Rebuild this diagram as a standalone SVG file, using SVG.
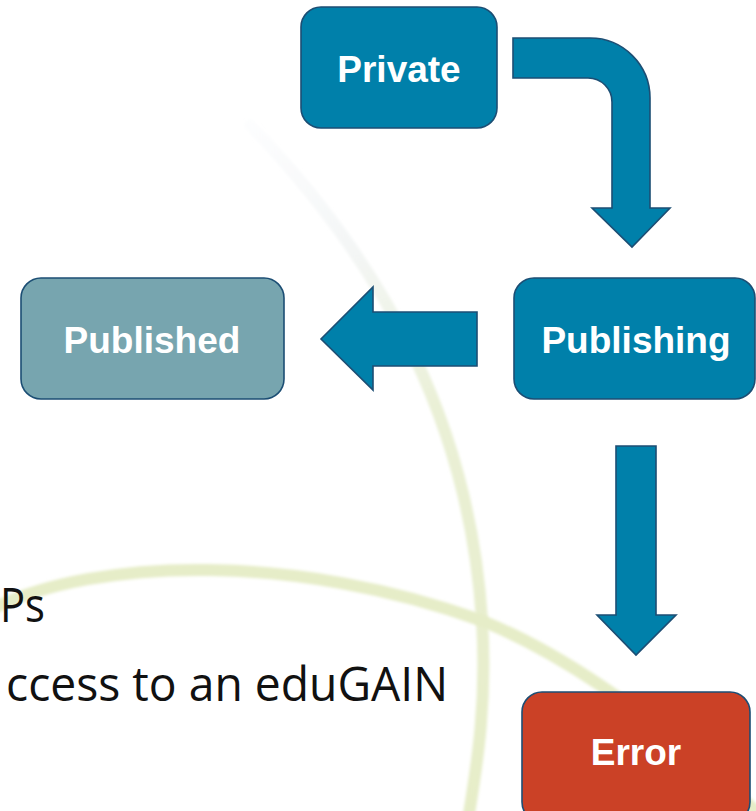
<svg xmlns="http://www.w3.org/2000/svg" width="756" height="811" viewBox="0 0 756 811">
  <defs>
    <linearGradient id="arcA" gradientUnits="userSpaceOnUse" x1="250" y1="125" x2="480" y2="811">
      <stop offset="0" stop-color="#F3F5F8" stop-opacity="0.2"/>
      <stop offset="0.2" stop-color="#F1F4F4" stop-opacity="0.8"/>
      <stop offset="0.45" stop-color="#EAF0D6"/>
      <stop offset="1" stop-color="#E6EDC8"/>
    </linearGradient>
    <filter id="soft" x="-10%" y="-10%" width="120%" height="120%">
      <feGaussianBlur stdDeviation="1.8"/>
    </filter>
  </defs>
  <style>
    .node { stroke: #1C4E74; stroke-width: 1.6; }
    .blue { fill: #0080AA; }
    .grey { fill: #77A5AF; }
    .red { fill: #CB4126; }
    .label { font-family: "Liberation Sans", Arial, sans-serif; font-weight: bold; font-size: 37px; fill: #FFFFFF; text-anchor: middle; }
    .arrow { fill: #0080AA; stroke: #1C4E74; stroke-width: 1.6; stroke-linejoin: miter; }
    .body { font-family: "Open Sans", "Noto Sans", sans-serif; font-size: 47px; fill: #111111; }
    .bg { fill: none; stroke-width: 12; stroke-linecap: round; filter: url(#soft); }
  </style>
  <rect x="0" y="0" width="756" height="811" fill="#FFFFFF"/>

  <g id="background">
    <path class="bg" d="M250,125 C390,270 470,430 482,620 C487,700 478,760 468,820" stroke="url(#arcA)"/>
    <path class="bg" d="M-10,610 C100,555 300,555 480,620 C580,660 680,740 760,815" stroke="#E6EDC8"/>
  </g>

  <g id="text">
    <text class="body" x="0" y="622" textLength="45" lengthAdjust="spacingAndGlyphs">Ps</text>
    <text class="body" x="6" y="701" textLength="442" lengthAdjust="spacingAndGlyphs">ccess to an eduGAIN</text>
  </g>

  <g id="connectors">
    <path class="arrow" d="M513,38 L590,38 A60,60 0 0 1 650,98 L650,208 L670,208 L632,247 L592,208 L612,208 L612,102 A24,24 0 0 0 588,78 L513,78 Z"/>
    <path class="arrow" d="M477,312 L373,312 L373,287 L321,339 L373,390 L373,366 L477,366 Z"/>
    <path class="arrow" d="M616,446 L656,446 L656,615 L676,615 L636,655 L597,615 L616,615 Z"/>
  </g>

  <g id="private">
    <rect class="node blue" x="301" y="7" width="196" height="121" rx="20" ry="20"/>
    <text class="label" x="399" y="82">Private</text>
  </g>
  <g id="publishing">
    <rect class="node blue" x="514" y="278" width="241" height="121" rx="20" ry="20"/>
    <text class="label" x="636" y="353">Publishing</text>
  </g>
  <g id="published">
    <rect class="node grey" x="21" y="278" width="263" height="121" rx="20" ry="20"/>
    <text class="label" x="152" y="353">Published</text>
  </g>
  <g id="error">
    <rect class="node red" x="522" y="692" width="228" height="130" rx="20" ry="20"/>
    <text class="label" x="636" y="765">Error</text>
  </g>
</svg>
